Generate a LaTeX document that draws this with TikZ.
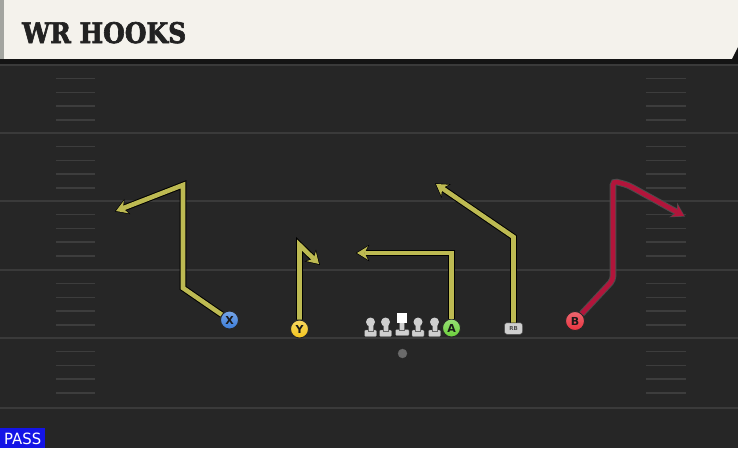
\documentclass[tikz,border=0pt]{standalone}
\usepackage{fontspec}
\newfontfamily\titlefont[FakeBold=2.5]{DejaVu Serif}
\newfontfamily\sansfont{DejaVu Sans}
\usetikzlibrary{arrows.meta}
\definecolor{field}{HTML}{262626}
\definecolor{band}{HTML}{141414}
\definecolor{yardline}{HTML}{3A3A3A}
\definecolor{hashc}{HTML}{3D3D3D}
\definecolor{cream}{HTML}{F4F2EC}
\definecolor{stripe}{HTML}{A3A5A0}
\definecolor{titlec}{HTML}{222222}
\definecolor{olive}{HTML}{BDBA52}
\definecolor{crimson}{HTML}{B2153B}
\definecolor{xblue}{HTML}{3B7DDA}
\definecolor{yyellow}{HTML}{F4C51C}
\definecolor{agreen}{HTML}{6BD03A}
\definecolor{bred}{HTML}{E8333F}
\definecolor{passblue}{HTML}{1414E6}
\definecolor{olgray}{HTML}{CFCFCF}
\definecolor{ballc}{HTML}{6A6A6A}
\begin{document}
\begin{tikzpicture}[x=1pt,y=-1pt,
  player/.style={circle, draw=black!85, line width=0.9pt, minimum size=18pt, inner sep=0pt,
    font=\sansfont\bfseries\fontsize{11}{11}\selectfont, text=black!90},
  outl/.style={draw=black, line width=6.6pt, line join=miter, shorten >=-1.2pt,
    -{Stealth[length=13.5pt,width=16.5pt,inset=4pt,line width=0pt]}},
  olroute/.style={draw=olive, line width=4.6pt, line join=miter,
    -{Stealth[length=11pt,width=13.5pt,inset=3.5pt,line width=0pt]}},
  redroute/.style={draw=crimson, line width=4.6pt, line join=miter,
    -{Stealth[length=11pt,width=13.5pt,inset=3.5pt,line width=0pt]}},
  yard/.style={draw=yardline, line width=1.8pt},
  hashm/.style={draw=hashc, line width=1.4pt},
  lman/.style={fill=olgray, draw=black!60, line width=0.3pt}
]
\useasboundingbox (0,0) rectangle (738,448);
% field
\fill[field] (0,0) rectangle (738,448);
% yard lines
\foreach \yy in {65,133,201,270,338,408} \draw[yard] (0,\yy) -- (738,\yy);
% hash marks
\foreach \yy in {65,133,201,270,338} {
  \foreach \k in {1,2,3,4} {
    \draw[hashm] (56,\yy+13.7*\k) -- (95,\yy+13.7*\k);
    \draw[hashm] (646,\yy+13.7*\k) -- (686,\yy+13.7*\k);
  }
}
% header
\fill[cream] (0,0) rectangle (738,59);
\fill[stripe] (0,0) rectangle (4,59);
\fill[band] (0,59) rectangle (738,64);
\fill[band] (732,59) -- (738,47) -- (738,59) -- cycle;
\node[anchor=base west, inner sep=0pt, text=titlec] (title) at (22,43)
  {\resizebox{164pt}{21pt}{\titlefont\bfseries WR HOOKS}};
% pass label
\fill[passblue] (0,428) rectangle (45,448);
\node[anchor=base west, inner sep=0pt, text=white] (pass) at (4,444)
  {\resizebox{37pt}{11.5pt}{\sansfont PASS}};
% ball
\node[circle, fill=ballc, draw=black!60, line width=0.3pt, minimum size=9pt, inner sep=0pt] (ball) at (402.5,353.5) {};
% linemen
\foreach \c/\n in {370.5/l1,385.5/l2,418/l4,434.5/l5} {
  \fill[lman, rounded corners=1pt] (\c-6,330) rectangle (\c+6,336.5);
  \fill[lman] (\c-2.5,322) rectangle (\c+2.5,331);
  \node[circle, fill=olgray, minimum size=9pt, inner sep=0pt] (\n) at (\c,322) {};
}
\fill[lman, rounded corners=1pt] (395.5,329.5) rectangle (409,335.5);
\fill[lman] (399.5,321) rectangle (404.5,330.5);
\node[rectangle, fill=white, minimum size=10pt, inner sep=0pt] (center) at (401.5,317.5) {};
% players
\node[player, top color=xblue!70!white, bottom color=xblue] (X) at (229.5,320) {X};
\node[player, top color=yyellow!70!white, bottom color=yyellow] (Y) at (299.5,329) {Y};
\node[player, top color=agreen!70!white, bottom color=agreen] (A) at (451.5,328) {A};
\node[player, top color=bred!75!white, bottom color=bred, minimum size=19pt] (B) at (575,321) {B};
\node[rectangle, rounded corners=2.5pt, fill=olgray, draw=black!70, line width=0.5pt,
  minimum width=18pt, minimum height=11.5pt, inner sep=0pt,
  font=\sansfont\bfseries\fontsize{5.5}{5.5}\selectfont, text=black!70] (RB) at (513.5,328.5) {RB};
% route corners
\coordinate (x1) at (183,288);
\coordinate (x2) at (183,185);
\coordinate (x3) at (116,211);
\coordinate (y1) at (299.5,245);
\coordinate (y2) at (319,264);
\coordinate (a1) at (451.5,253);
\coordinate (a2) at (357,253);
\coordinate (r1) at (513.5,237);
\coordinate (r2) at (436,184);
\coordinate (b1) at (613,280);
\coordinate (b2) at (613,181);
\coordinate (b3) at (628,185);
\coordinate (b4) at (684,216);
% routes
\draw[outl] (X) -- (x1) -- (x2) -- (x3);
\draw[olroute] (X) -- (x1) -- (x2) -- (x3);
\draw[outl] (Y) -- (y1) -- (y2);
\draw[olroute] (Y) -- (y1) -- (y2);
\draw[outl] (A) -- (a1) -- (a2);
\draw[olroute] (A) -- (a1) -- (a2);
\draw[outl] (RB) -- (r1) -- (r2);
\draw[olroute] (RB) -- (r1) -- (r2);
\draw[outl, draw=black!70, rounded corners=4pt] (B) -- (b1) -- (b2) -- (b3) -- (b4);
\draw[redroute, rounded corners=4pt] (B) -- (b1) -- (b2) -- (b3) -- (b4);
\end{tikzpicture}
\end{document}
